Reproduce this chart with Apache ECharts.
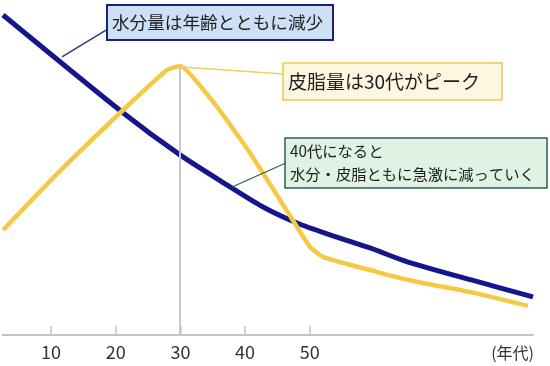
<!DOCTYPE html>
<html><head><meta charset="utf-8">
<script src="https://cdn.jsdelivr.net/npm/echarts@6/dist/echarts.min.js"></script>
<style>html,body{margin:0;padding:0;background:#fff}#c{width:550px;height:366px}</style>
</head><body><div id="c"></div>
<script>
// Age (decade value) and relative amount readings
const waterAges = [2.58, 20.97, 29.94, 37.67, 42.77, 48.02, 53.12, 59.30, 65.18, 75.53, 84.5];
const waterVals = [100, 69.7, 56.3, 46.3, 40.0, 35.0, 31.3, 27.2, 22.8, 16.9, 11.9];
const sebumAges = [2.58, 11.39, 20.97, 24.8, 27.9, 29.94, 35.66, 40.76, 45.4, 48.02, 50.03, 52.04, 55.75, 59.30, 65.18, 75.53, 83.7];
const sebumVals = [32.8, 51.3, 70.0, 77.2, 82.8, 84.1, 71.3, 56.9, 42.2, 33.8, 27.5, 24.4, 22.2, 20.3, 17.2, 13.1, 9.1];
const tickLabels = [10, 20, 30, 40, 50];
const unitLabel = '(年代)';
const note1 = '水分量は年齢とともに減少';
const note2 = '皮脂量は30代がピーク';
const note3 = '40代になると\n水分・皮脂ともに急激に減っていく';

const FONT = '"Noto Sans CJK JP", "Noto Sans", sans-serif';
const chart = echarts.init(document.getElementById('c'));
const zip = (a, b) => a.map((v, i) => [v, b[i]]);
const lm = (p, q, color, w) => ({
  silent: true, symbol: 'none', animation: false,
  label: { show: false }, emphasis: { disabled: true },
  lineStyle: { color: color, width: w, type: 'solid' },
  data: [[{ coord: p }, { coord: q }]]
});
function box(x, y, w, h, fill, stroke, sw, text, fs, lh) {
  return {
    type: 'group', x: x, y: y, children: [
      { type: 'rect', shape: { x: 0, y: 0, width: w, height: h }, style: { fill: fill, stroke: stroke, lineWidth: sw } },
      { type: 'text', x: 5, y: h / 2, style: { text: text, fill: '#1e1e1e', font: fs + 'px ' + FONT, lineHeight: lh, verticalAlign: 'middle', align: 'left' } }
    ]
  };
}
chart.setOption({
  animation: false,
  grid: { left: 2.5, right: 17, top: 15, bottom: 31 },
  xAxis: {
    type: 'value', min: 2.5, max: 84.5,
    splitLine: { show: false },
    axisLine: { show: true, onZero: false, lineStyle: { color: '#c4c4c4', width: 2 } },
    axisTick: { show: true, inside: true, length: 9, customValues: tickLabels, lineStyle: { color: '#c4c4c4', width: 1.5 } },
    axisLabel: { customValues: tickLabels, fontSize: 18, color: '#333', margin: 8, fontFamily: FONT }
  },
  yAxis: { type: 'value', min: 0, max: 100, show: false },
  graphic: [
    box(107, 5, 226, 35, '#cde0f5', '#1c2270', 2, note1, 17.6, 22),
    box(283, 63, 219, 37, '#fdf7e2', '#ecc94b', 1.5, note2, 19, 24),
    box(285, 138, 262, 50, '#dff2e4', '#2a6048', 1.5, note3, 15.3, 23),
    { type: 'text', x: 534, y: 353, style: { text: unitLabel, fill: '#333', font: '16px ' + FONT, align: 'right', verticalAlign: 'middle' } }
  ],
  series: [
    {
      type: 'line', data: zip(waterAges, waterVals), smooth: 0.25, symbol: 'none', clip: false,
      lineStyle: { color: '#15168a', width: 5 }, z: 3,
      markLine: Object.assign(lm([11.7, 86.9], [18.5, 95.3], '#333a7a', 1.5), { z: 2 })
    },
    {
      type: 'line', data: zip(sebumAges, sebumVals), smooth: 0.15, symbol: 'none', clip: false,
      lineStyle: { color: '#f6c944', width: 4.5 }, z: 4,
      markLine: lm([30.25, 83.75], [45.9, 81.6], '#ecd060', 1.5)
    },
    {
      type: 'line', data: [], symbol: 'none', z: 1,
      markLine: { silent: true, symbol: 'none', animation: false, label: { show: false },
        lineStyle: { color: '#c8c8c8', width: 2, type: 'solid' },
        data: [[{ coord: [29.94, 84.1] }, { coord: [29.94, 0] }]] }
    },
    {
      type: 'line', data: [], symbol: 'none', z: 2,
      markLine: lm([37.98, 46.25], [46.3, 53.75], '#2a6048', 1.2)
    }
  ]
});
</script></body></html>
